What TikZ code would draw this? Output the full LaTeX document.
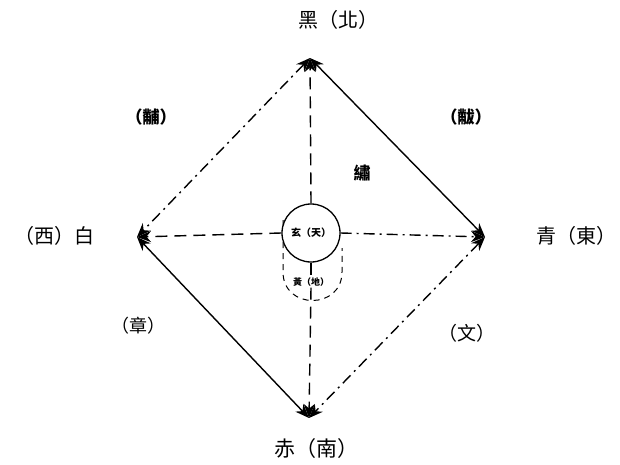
\documentclass[tikz,border=0pt]{standalone}
\usepackage{fontspec}
\newfontfamily\cjk{Noto Sans CJK TC}
\usetikzlibrary{arrows.meta}
\begin{document}
\begin{tikzpicture}[x=1pt,y=-1pt,
  line/.style={line width=1.4pt, black},
  longdash/.style={line, dash pattern=on 12pt off 7pt},
  dashdotline/.style={line, dash pattern=on 11pt off 5pt on 2pt off 5pt},
  both/.style={{Stealth[length=14pt,width=11pt]}-{Stealth[length=14pt,width=11pt]}},
  endtip/.style={-{Stealth[length=14pt,width=11pt]}},
  lab/.style={font=\cjk\fontsize{20}{22}\selectfont, inner sep=0pt},
  slab/.style={font=\cjk\bfseries\fontsize{17}{19}\selectfont, inner sep=0pt}]
\useasboundingbox (0,0) rectangle (620,465);
\coordinate (N) at (310,58);
\coordinate (W) at (137,237);
\coordinate (E) at (485,237);
\coordinate (S) at (309,418);
% lower dashed outline (earth)
\draw[line, line width=1pt, dash pattern=on 6pt off 5pt] (283,220) -- (283,272) .. controls (283,310) and (342,310) .. (342,272) -- (342,248);
\node[circle, draw, line width=1.3pt, fill=white, minimum size=58pt, inner sep=0pt,
      font=\cjk\bfseries\fontsize{10}{12}\selectfont] (C) at (311,233) {玄（天）};
\node[fill=white, inner sep=1pt, font=\cjk\bfseries\fontsize{9}{10}\selectfont] (D) at (311,282) {黃（地）};
% connectors
\draw[line, both] (N) -- (E);
\draw[line, both] (W) -- (S);
\draw[dashdotline, both] (N) -- (W);
\draw[dashdotline, both] (E) -- (S);
\draw[longdash, endtip] (C.west) -- (W);
\draw[dashdotline, endtip] (C.east) -- (E);
\draw[longdash, endtip] (C.north) -- (N);
\draw[longdash] (C.south) -- (D.north);
\draw[longdash, endtip] (D.south) -- (S);
% labels
\node[lab, anchor=west] (tN) at (298,20) {黑（北）};
\node[lab] (tW) at (54,236) {（西）白};
\node[lab] (tE) at (576,236) {青（東）};
\node[lab, font=\cjk\fontsize{21}{23}\selectfont] (tS) at (316,449) {赤（南）};
\node[slab] (tNW) at (151,117) {（黼）};
\node[slab] (tNE) at (466,117) {（黻）};
\node[slab] (tC) at (362,173) {繡};
\node[lab, font=\cjk\fontsize{18}{20}\selectfont] (tSW) at (138,326) {（章）};
\node[lab, font=\cjk\fontsize{19}{21}\selectfont] (tSE) at (467,333) {（文）};
\end{tikzpicture}
\end{document}
